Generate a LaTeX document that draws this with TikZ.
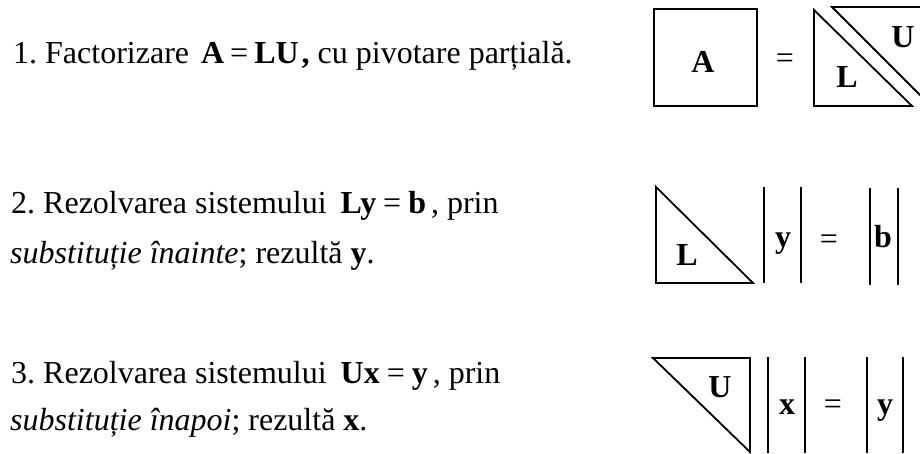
\documentclass[tikz,border=0pt]{standalone}
\usepackage{fontspec}
\setmainfont{Liberation Serif}
\frenchspacing
\begin{document}
\begin{tikzpicture}[x=1pt,y=-1pt,
  txt/.style={anchor=base west,inner sep=0pt,font=\fontsize{32}{38}\selectfont\frenchspacing},
  lbl/.style={anchor=base,inner sep=0pt,font=\fontsize{32}{38}\selectfont\bfseries},
  eqs/.style={anchor=center,inner sep=0pt,font=\fontsize{32}{38}\selectfont},
  shp/.style={line width=1.8pt,line join=miter,line cap=butt}]
\useasboundingbox (0,0) rectangle (920,453);
\clip (0,0) rectangle (920,453);
% texts
\node[txt] (t1) at (13,63) {1. Factorizare\hspace{12pt}\textbf{A}\hspace{6pt}=\hspace{6pt}\textbf{LU}\hspace{3pt}\textbf{,} cu pivotare parțială.};
\node[txt] (t2a) at (11,213) {2. Rezolvarea sistemului\hspace{14pt}\textbf{Ly}\hspace{7pt}=\hspace{7pt}\textbf{b}\hspace{5pt}, prin};
\node[txt] (t2b) at (10,263) {\textit{substituție înainte}; rezultă \textbf{y}.};
\node[txt] (t3a) at (11,383) {3. Rezolvarea sistemului\hspace{14pt}\textbf{Ux}\hspace{7pt}=\hspace{7pt}\textbf{y}\hspace{5pt}, prin};
\node[txt] (t3b) at (10,430) {\textit{substituție înapoi}; rezultă \textbf{x}.};
% row 1
\draw[shp] (654,9) rectangle (757,106);
\node[lbl] (a1) at (703,72) {A};
\node[eqs] (e1) at (785,61) {=};
\draw[shp] (814,10) -- (814,106) -- (912,106) -- cycle;
\node[lbl] (l1) at (847,87) {L};
\draw[shp] (930,7) -- (832,7) -- (930,105);
\node[lbl] (u1) at (903,47) {U};
% row 2
\draw[shp] (656,187) -- (656,283) -- (753,283) -- cycle;
\node[lbl] (l2) at (687,265) {L};
\draw[shp] (764,187) -- (764,283);
\draw[shp] (801,187) -- (801,283);
\node[lbl] (y2) at (783,247) {y};
\node[eqs] (e2) at (829,242) {=};
\draw[shp] (870,188) -- (870,285);
\draw[shp] (898,188) -- (898,285);
\node[lbl] (b2) at (883,247) {b};
% row 3
\draw[shp] (653,358) -- (750,358) -- (750,452) -- cycle;
\node[lbl] (u3) at (720,397) {U};
\draw[shp] (768,357) -- (768,453);
\draw[shp] (805,357) -- (805,453);
\node[lbl] (x3) at (787,414) {x};
\node[eqs] (e3) at (833,407) {=};
\draw[shp] (867,357) -- (867,453);
\draw[shp] (903,357) -- (903,453);
\node[lbl] (y3) at (885,414) {y};
\end{tikzpicture}
\end{document}
